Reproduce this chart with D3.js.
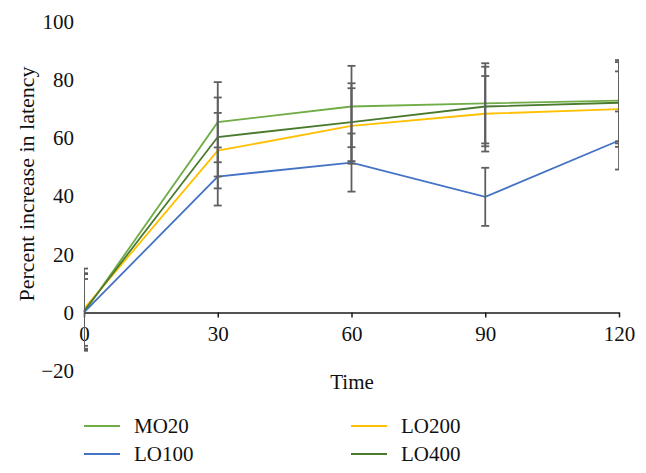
<!DOCTYPE html>
<html><head><meta charset="utf-8">
<script src="https://cdn.jsdelivr.net/npm/d3@7"></script>
<style>body{margin:0;background:#fff}svg{display:block}</style>
</head><body><svg id="c" width="646" height="473"></svg>
<script>
const times = [0, 30, 60, 90, 120];
const seriesNames = ["MO20", "LO100", "LO200", "LO400"];
const MO20 = [0, 65.5, 70.9, 72.0, 72.9];
const LO100 = [0, 46.8, 51.6, 39.8, 59.2];
const LO200 = [1.2, 55.7, 64.2, 68.4, 70.0];
const LO400 = [0.5, 60.4, 65.5, 70.9, 72.2];
const errMO20 = [13.2, 13.8, 14.0, 13.8, 14.0];
const errLO100 = [11.5, 10.0, 10.0, 10.0, 10.0];
const errLO200 = [13.9, 13.0, 13.0, 13.0, 13.0];
const errLO400 = [13.0, 13.6, 13.4, 13.7, 14.0];
const yTicks = [-20, 0, 20, 40, 60, 80, 100];
const xTicks = [0, 30, 60, 90, 120];
const colors = ["#70ad47", "#4472c4", "#ffc000", "#4a7a2e"];

const series = [
  {name: "MO20", vals: MO20, err: errMO20, color: colors[0]},
  {name: "LO100", vals: LO100, err: errLO100, color: colors[1]},
  {name: "LO200", vals: LO200, err: errLO200, color: colors[2]},
  {name: "LO400", vals: LO400, err: errLO400, color: colors[3]}
];

const svg = d3.select("#c");
const font = "'Liberation Serif', 'Times New Roman', serif";
const fs = 21;
const x = d3.scaleLinear().domain([0, 120]).range([84, 619]);
const y = d3.scaleLinear().domain([-20, 100]).range([370.5, 22]);

svg.append("defs").append("clipPath").attr("id", "pc")
  .append("rect").attr("x", 84).attr("y", 0).attr("width", 535).attr("height", 473);

// y tick labels (no axis line)
const yAxis = svg.append("g").attr("transform", "translate(84,0)")
  .call(d3.axisLeft(y).tickValues(yTicks).tickSize(0).tickPadding(10).tickFormat(d => d < 0 ? "\u2212" + Math.abs(d) : d));
yAxis.select(".domain").remove();
yAxis.selectAll("text").attr("font-family", font).attr("font-size", fs).attr("fill", "#111");

// x axis at y=0
const xAxis = svg.append("g").attr("transform", `translate(0,${y(0)})`)
  .call(d3.axisBottom(x).tickValues(xTicks).tickSize(5).tickPadding(9).tickSizeOuter(0));
xAxis.select(".domain").attr("stroke", "#1a1a1a").attr("stroke-width", 1.5);
xAxis.selectAll(".tick line").attr("stroke", "#1a1a1a").attr("stroke-width", 1.5);
xAxis.selectAll("text").attr("font-family", font).attr("font-size", fs).attr("fill", "#111");

// lines
const line = d3.line().x((d, i) => x(times[i])).y(d => y(d));
const g = svg.append("g");
series.forEach(s => {
  g.append("path").datum(s.vals).attr("d", line).attr("fill", "none")
    .attr("stroke", s.color).attr("stroke-width", 1.8);
});

// error bars
const eb = svg.append("g").attr("clip-path", "url(#pc)").attr("stroke", "#5f5f5f").attr("stroke-width", 1.8);
series.forEach(s => {
  s.vals.forEach((v, i) => {
    const cx = x(times[i]);
    const hi = y(v + s.err[i]), lo = y(v - s.err[i]);
    eb.append("line").attr("x1", cx).attr("x2", cx).attr("y1", hi).attr("y2", lo);
    eb.append("line").attr("x1", cx - 4).attr("x2", cx + 4).attr("y1", hi).attr("y2", hi);
    eb.append("line").attr("x1", cx - 4).attr("x2", cx + 4).attr("y1", lo).attr("y2", lo);
  });
});

// axis titles
svg.append("text").attr("x", 352).attr("y", 389).attr("text-anchor", "middle")
  .attr("font-family", font).attr("font-size", fs).attr("fill", "#111").text("Time");
svg.append("text").attr("transform", "translate(34,184) rotate(-90)").attr("text-anchor", "middle")
  .attr("font-family", font).attr("font-size", 22).attr("fill", "#111").text("Percent increase in latency");

// legend
const legPos = [[84, 426], [84, 454], [351, 426], [351, 454]];
series.forEach((s, i) => {
  const [lx, ly] = legPos[i];
  svg.append("line").attr("x1", lx).attr("x2", lx + 36).attr("y1", ly).attr("y2", ly)
    .attr("stroke", s.color).attr("stroke-width", 1.8);
  svg.append("text").attr("x", lx + 50).attr("y", ly + 7)
    .attr("font-family", font).attr("font-size", fs).attr("fill", "#111").text(s.name);
});
</script></body></html>
